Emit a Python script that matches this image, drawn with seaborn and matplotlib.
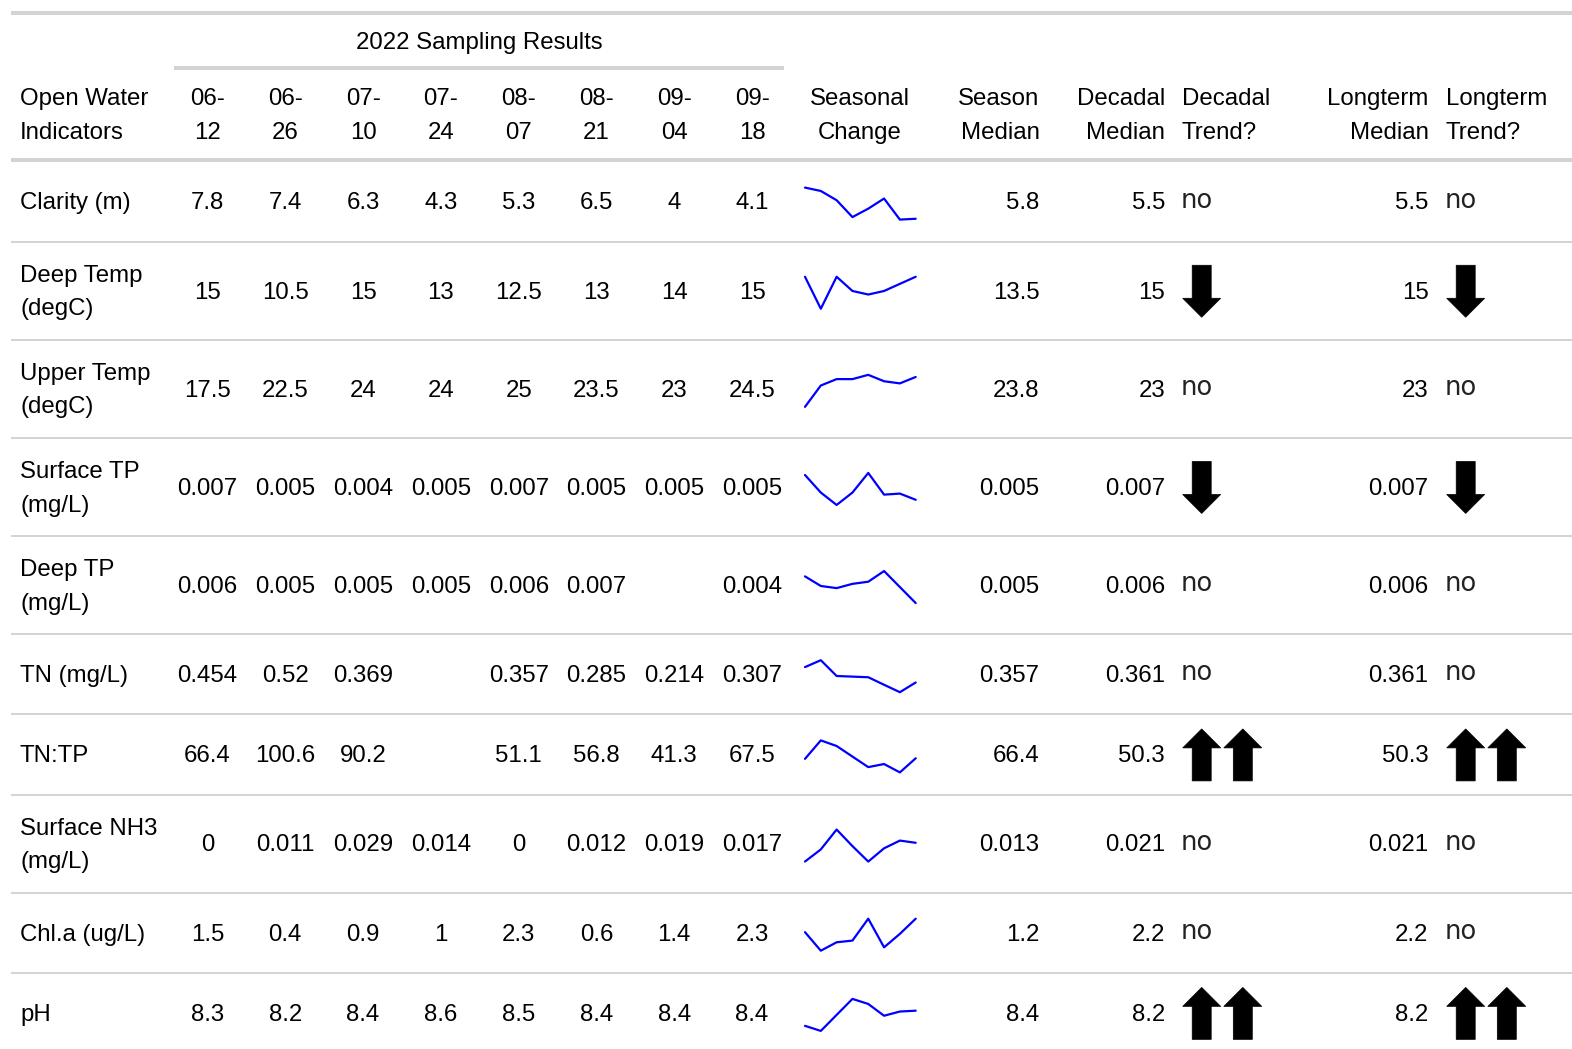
import numpy as np
import pandas as pd
import matplotlib
matplotlib.use("Agg")
import matplotlib.pyplot as plt
import seaborn as sns
from matplotlib.patches import Polygon

# ------------------------ data ------------------------
indicators = ["Clarity (m)", "Deep Temp\n(degC)", "Upper Temp\n(degC)", "Surface TP\n(mg/L)",
              "Deep TP\n(mg/L)", "TN (mg/L)", "TN:TP", "Surface NH3\n(mg/L)", "Chl.a (ug/L)", "pH"]
sample_dates = ["06-12", "06-26", "07-10", "07-24", "08-07", "08-21", "09-04", "09-18"]

clarity = [7.8, 7.4, 6.3, 4.3, 5.3, 6.5, 4.0, 4.1]
deep_temp = [15, 10.5, 15, 13, 12.5, 13, 14, 15]
upper_temp = [17.5, 22.5, 24, 24, 25, 23.5, 23, 24.5]
surface_tp = [0.0071, 0.0054, 0.0042, 0.0054, 0.0073, 0.0052, 0.0053, 0.0047]
deep_tp = [0.0061, 0.0052, 0.0050, 0.0054, 0.0056, 0.0066, np.nan, 0.0036]
tn = [0.454, 0.52, 0.369, np.nan, 0.357, 0.285, 0.214, 0.307]
tn_tp = [66.4, 100.6, 90.2, np.nan, 51.1, 56.8, 41.3, 67.5]
surface_nh3 = [0, 0.011, 0.029, 0.014, 0, 0.012, 0.019, 0.017]
chla = [1.5, 0.4, 0.9, 1.0, 2.3, 0.6, 1.4, 2.3]
ph = [8.26, 8.2, 8.39, 8.58, 8.52, 8.38, 8.43, 8.44]
sample_values = [clarity, deep_temp, upper_temp, surface_tp, deep_tp, tn, tn_tp, surface_nh3, chla, ph]
decimals = [1, 1, 1, 3, 3, 3, 1, 3, 1, 1]

season_median = [5.8, 13.5, 23.8, 0.005, 0.005, 0.357, 66.4, 0.013, 1.2, 8.4]
decadal_median = [5.5, 15, 23, 0.007, 0.006, 0.361, 50.3, 0.021, 2.2, 8.2]
decadal_trend = ["no", "down", "no", "down", "no", "no", "up2", "no", "no", "up2"]
longterm_median = [5.5, 15, 23, 0.007, 0.006, 0.361, 50.3, 0.021, 2.2, 8.2]
longterm_trend = ["no", "down", "no", "down", "no", "no", "up2", "no", "no", "up2"]


def fmt(v, d=3):
    if v is None or (isinstance(v, float) and np.isnan(v)):
        return ""
    return f"{round(v, d):g}"


# ------------------------ layout (pixels) ------------------------
W, H = 1572, 1049
FS = 17.3
CAP = 8.6  # half cap height in px
GRID = "#D3D3D3"
date_x = [207.5 + 77.8 * i for i in range(len(sample_dates))]
spark_x0, spark_x1 = 805, 915.7
season_r, dec_r, dec_l, long_r, long_l = 1039.5, 1165, 1182, 1428.5, 1446

sns.set_theme(style="white")
plt.rcParams["font.family"] = ["Liberation Sans", "DejaVu Sans"]

fig = plt.figure(figsize=(W / 100, H / 100), dpi=100)
fig.patch.set_facecolor("white")
ax = fig.add_axes([0, 0, 1, 1])
ax.set_xlim(0, W)
ax.set_ylim(H, 0)
ax.axis("off")


def put(x, yc, s, ha="center", **kw):
    # yc = visual centre of capitals
    ax.text(x, yc + CAP, s, ha=ha, va="baseline", fontsize=FS, color="black", **kw)


def put_lines(x, yc, s, ha="center", gap=33.7):
    parts = s.split("\n")
    if len(parts) == 1:
        put(x, yc, s, ha)
    else:
        put(x, yc - gap / 2, parts[0], ha)
        put(x, yc + gap / 2, parts[1], ha)


def arrow(cx, rc, up=True):
    top, bot = rc - 25.5, rc + 26.5
    hw, sw, hl = 19, 9.5, 19
    if up:
        pts = [(cx, top), (cx + hw, top + hl), (cx + sw, top + hl), (cx + sw, bot),
               (cx - sw, bot), (cx - sw, top + hl), (cx - hw, top + hl)]
    else:
        pts = [(cx, bot), (cx + hw, bot - hl), (cx + sw, bot - hl), (cx + sw, top),
               (cx - sw, top), (cx - sw, bot - hl), (cx - hw, bot - hl)]
    ax.add_patch(Polygon(pts, closed=True, facecolor="black", edgecolor="black", lw=0.5))


def trend(x_left, rc, kind):
    if kind == "no":
        ax.text(x_left - 1, rc + 6, "no", ha="left", va="baseline", fontsize=18.5,
                family="DejaVu Sans", color="#222222")
    elif kind == "down":
        arrow(x_left + 19.7, rc, up=False)
    elif kind == "up2":
        arrow(x_left + 19.7, rc, up=True)
        arrow(x_left + 60.8, rc, up=True)


# ------------------------ header ------------------------
ax.hlines(13, 11, W, color=GRID, lw=2.9)
put(479, 40, "2022 Sampling Results")
ax.hlines(68, 174, 784, color=GRID, lw=2.9)
hy = 113.3
put_lines(20, hy, "Open Water\nIndicators", ha="left")
for x, d in zip(date_x, sample_dates):
    put_lines(x, hy, d[:3] + "\n" + d[3:])
put_lines(860, hy, "Seasonal\nChange")
put_lines(season_r, hy, "Season\nMedian", ha="right")
put_lines(dec_r, hy, "Decadal\nMedian", ha="right")
put_lines(dec_l, hy, "Decadal\nTrend?", ha="left")
put_lines(long_r, hy, "Longterm\nMedian", ha="right")
put_lines(long_l, hy, "Longterm\nTrend?", ha="left")
ax.hlines(160, 11, W, color=GRID, lw=2.9)

# ------------------------ body ------------------------
y = 161.5
for i, label in enumerate(indicators):
    rh = 98.1 if "\n" in label else 80.2
    rc = y + rh / 2
    tc = rc - 0.8
    put_lines(20, tc, label, ha="left")
    for x, v in zip(date_x, sample_values[i]):
        put(x, tc, fmt(v, decimals[i]))
    put(season_r, tc, fmt(season_median[i]), ha="right")
    put(dec_r, tc, fmt(decadal_median[i]), ha="right")
    put(long_r, tc, fmt(longterm_median[i]), ha="right")
    trend(dec_l, rc, decadal_trend[i])
    trend(long_l, rc, longterm_trend[i])

    # seasonal sparkline
    df = pd.DataFrame({"pos": np.arange(len(sample_dates)), "value": sample_values[i]}).dropna()
    sc = rc + 2
    sax = fig.add_axes([spark_x0 / W, 1 - (sc + 16) / H, (spark_x1 - spark_x0) / W, 32 / H])
    sns.lineplot(data=df, x="pos", y="value", ax=sax, color="#0000FF", linewidth=1.6)
    sax.set_xlim(0, len(sample_dates) - 1)
    sax.set_ylim(df["value"].min(), df["value"].max())
    sax.axis("off")
    for ln in sax.lines:
        ln.set_clip_on(False)

    y += rh
    if i < len(indicators) - 1:
        ax.hlines(y, 11, W, color=GRID, lw=1.4)

fig.savefig("out.png", dpi=100, facecolor="white")
